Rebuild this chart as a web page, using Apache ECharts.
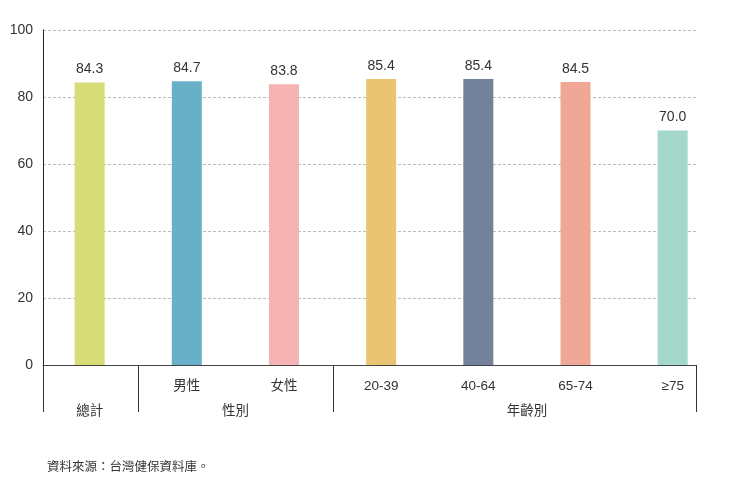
<!DOCTYPE html>
<html>
<head>
<meta charset="utf-8">
<script src="https://cdn.jsdelivr.net/npm/echarts@6/dist/echarts.min.js"></script>
<style>
  html, body { margin: 0; padding: 0; background: #fff; }
  #chart { width: 740px; height: 488px; }
</style>
</head>
<body>
<div id="chart"></div>
<script>
// data
var categories = ['總計', '男性', '女性', '20-39', '40-64', '65-74', '≥75'];
var values = [84.3, 84.7, 83.8, 85.4, 85.4, 84.5, 70.0];
var barColors = ['#d7dd76', '#68b0c7', '#f5b4b3', '#e9c473', '#74819b', '#f1a796', '#a4d8ca'];
// first row of the table under the axis (總計 has none)
var subLabels = ['', '男性', '女性', '20-39', '40-64', '65-74', '≥75'];
// groups: name, first category, last category
var groupNames = ['總計', '性別', '年齡別'];
var groupFirst = [0, 1, 3];
var groupLast = [0, 2, 6];
var yTicks = [0, 20, 40, 60, 80, 100];
var sourceText = '資料來源：台灣健保資料庫。';

var FONT = '"Liberation Sans", Arial, "Noto Sans CJK TC", sans-serif';
var xMin = -0.48, xMax = 6.24;

var chart = echarts.init(document.getElementById('chart'));

var option = {
  animation: false,
  grid: { left: 43, right: 44, top: 30, bottom: 123 },
  xAxis: {
    type: 'value',
    min: xMin,
    max: xMax,
    axisLine: { show: true, onZero: false, lineStyle: { color: '#444', width: 1 } },
    axisTick: { show: false },
    axisLabel: { show: false },
    splitLine: { show: false }
  },
  yAxis: {
    type: 'value',
    min: yTicks[0],
    max: yTicks[yTicks.length - 1],
    interval: 20,
    axisLine: { show: true, onZero: false, lineStyle: { color: '#222', width: 1 } },
    axisTick: { show: false },
    axisLabel: { color: '#333', fontSize: 14, fontFamily: FONT, margin: 10 },
    splitLine: { show: true, lineStyle: { color: '#bbb', type: [3, 2], width: 1 } }
  },
  series: [{
    type: 'bar',
    barWidth: 30,
    data: values.map(function (v, i) {
      return { value: [i, v], itemStyle: { color: barColors[i] } };
    }),
    label: {
      show: true,
      position: 'top',
      distance: 6,
      color: '#333',
      fontSize: 14,
      fontFamily: FONT,
      formatter: function (p) { return p.value[1].toFixed(1); }
    }
  }]
};
chart.setOption(option);

// table under the x axis, placed through the axis scale
var baseY = chart.convertToPixel({ gridIndex: 0 }, [0, 0])[1];
function px(i) { return chart.convertToPixel({ gridIndex: 0 }, [i, 0])[0]; }

var graphics = [];
var dividers = [xMin, 0.5, 2.5, xMax];
dividers.forEach(function (d) {
  var x = Math.round(px(d)) + 0.5;
  graphics.push({
    type: 'line',
    shape: { x1: x, y1: baseY, x2: x, y2: baseY + 47 },
    style: { stroke: '#333', lineWidth: 1 }
  });
});
subLabels.forEach(function (s, i) {
  if (!s) return;
  graphics.push({
    type: 'text',
    x: px(i), y: baseY + 21,
    style: { text: s, fill: '#333', font: '13.5px ' + FONT, align: 'center', verticalAlign: 'middle' }
  });
});
groupNames.forEach(function (g, k) {
  graphics.push({
    type: 'text',
    x: (px(groupFirst[k]) + px(groupLast[k])) / 2, y: baseY + 46,
    style: { text: g, fill: '#333', font: '13.5px ' + FONT, align: 'center', verticalAlign: 'middle' }
  });
});
graphics.push({
  type: 'text',
  x: 47, y: 468,
  style: { text: sourceText, fill: '#333', font: '12.5px ' + FONT, align: 'left', verticalAlign: 'middle' }
});

chart.setOption({ graphic: graphics });
</script>
</body>
</html>
